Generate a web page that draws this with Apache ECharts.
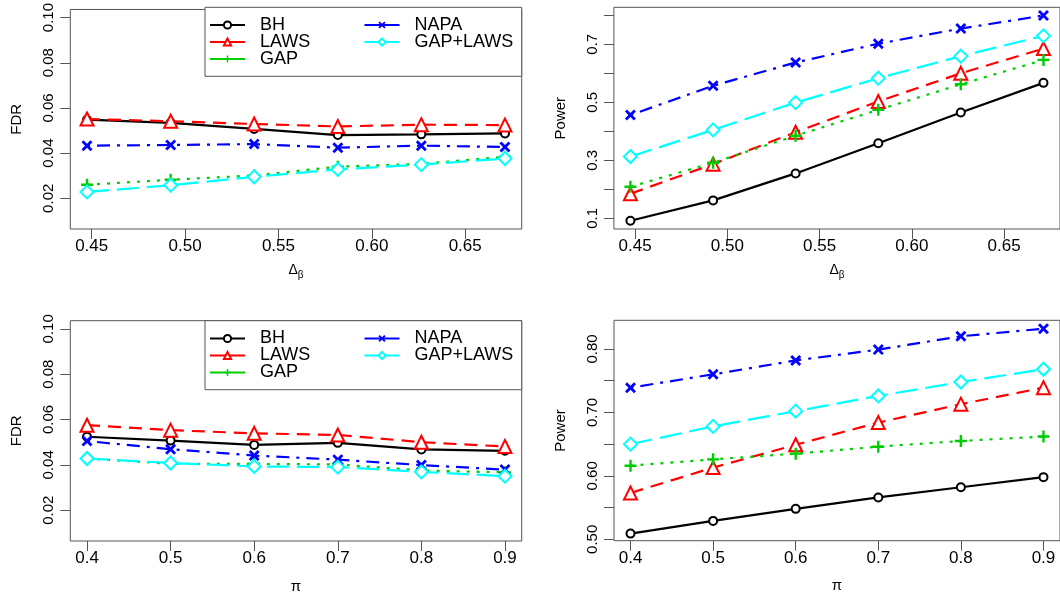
<!DOCTYPE html>
<html>
<head>
<meta charset="utf-8">
<script src="https://cdn.jsdelivr.net/npm/echarts@6/dist/echarts.min.js"></script>
<style>
html,body{margin:0;padding:0;background:#fff;}
#chart{width:1060px;height:597px;}
</style>
</head>
<body>
<div id="chart"></div>
<script>
// ---------------- data ----------------
const seriesNames = ['BH', 'LAWS', 'GAP', 'NAPA', 'GAP+LAWS'];
const deltaBeta = [0.4475, 0.4923, 0.5370, 0.5818, 0.6265, 0.6713];
const piVals = [0.4, 0.5, 0.6, 0.7, 0.8, 0.9];

// FDR vs delta_beta
const fdrDB_BH      = [0.0548, 0.0534, 0.0507, 0.0480, 0.0483, 0.0487];
const fdrDB_LAWS    = [0.0551, 0.0541, 0.0529, 0.0518, 0.0526, 0.0524];
const fdrDB_GAP     = [0.0260, 0.0282, 0.0301, 0.0340, 0.0352, 0.0384];
const fdrDB_NAPA    = [0.0433, 0.0436, 0.0440, 0.0424, 0.0433, 0.0427];
const fdrDB_GAPLAWS = [0.0228, 0.0258, 0.0295, 0.0328, 0.0349, 0.0376];

// Power vs delta_beta
const powDB_BH      = [0.092, 0.162, 0.255, 0.359, 0.465, 0.567];
const powDB_LAWS    = [0.185, 0.287, 0.397, 0.503, 0.600, 0.685];
const powDB_GAP     = [0.209, 0.292, 0.385, 0.474, 0.562, 0.646];
const powDB_NAPA    = [0.456, 0.557, 0.637, 0.702, 0.754, 0.799];
const powDB_GAPLAWS = [0.313, 0.405, 0.499, 0.583, 0.659, 0.729];

// FDR vs pi
const fdrPi_BH      = [0.0524, 0.0507, 0.0488, 0.0497, 0.0468, 0.0462];
const fdrPi_LAWS    = [0.0575, 0.0553, 0.0539, 0.0532, 0.0500, 0.0481];
const fdrPi_GAP     = [0.0428, 0.0405, 0.0404, 0.0402, 0.0375, 0.0367];
const fdrPi_NAPA    = [0.0505, 0.0469, 0.0441, 0.0423, 0.0399, 0.0379];
const fdrPi_GAPLAWS = [0.0428, 0.0408, 0.0393, 0.0390, 0.0369, 0.0350];

// Power vs pi
const powPi_BH      = [0.509, 0.529, 0.548, 0.566, 0.582, 0.598];
const powPi_LAWS    = [0.573, 0.613, 0.649, 0.684, 0.713, 0.739];
const powPi_GAP     = [0.616, 0.626, 0.635, 0.646, 0.655, 0.662];
const powPi_NAPA    = [0.739, 0.760, 0.782, 0.799, 0.820, 0.832];
const powPi_GAPLAWS = [0.650, 0.678, 0.702, 0.726, 0.748, 0.768];

// tick values
const xTicksDB = [0.45, 0.50, 0.55, 0.60, 0.65];
const xTicksPi = [0.4, 0.5, 0.6, 0.7, 0.8, 0.9];
const fdrTicks = [0.02, 0.04, 0.06, 0.08, 0.10];
const powTopTicks = [0.1, 0.2, 0.3, 0.4, 0.5, 0.6, 0.7, 0.8];
const powTopLabels = [0.1, 0.3, 0.5, 0.7];
const powBotTicks = [0.50, 0.55, 0.60, 0.65, 0.70, 0.75, 0.80];
const powBotLabels = [0.50, 0.60, 0.70, 0.80];

// axis limits (R style: range extended by 4%)
const fdrLim = [0.01, 0.10];
const powTopLim = [0.0635, 0.8273];
const powBotLim = [0.4978, 0.8452];

// ---------------- styling ----------------
const FONT = '"Liberation Sans", Arial, Helvetica, sans-serif';
const AX = '#555';
function ext(lo, hi) { const d = (hi - lo) * 0.04; return [lo - d, hi + d]; }
function rng(a) { return ext(Math.min.apply(null, a), Math.max.apply(null, a)); }

const plusPath = 'path://M4,0 H6 V4 H10 V6 H6 V10 H4 V6 H0 V4 H4 Z';
const xPath = 'path://M1.8,0 L5,3.2 L8.2,0 L10,1.8 L6.8,5 L10,8.2 L8.2,10 L5,6.8 L1.8,10 L0,8.2 L3.2,5 L0,1.8 Z';

const styles = {
  'BH':       { color: '#000000', dash: 'solid',        symbol: 'emptyCircle',   size: 8,  bw: 2 },
  'LAWS':     { color: '#FF0000', dash: [13, 8],        symbol: 'emptyTriangle', size: 13, bw: 2.2 },
  'GAP':      { color: '#00CD00', dash: [3, 7],         symbol: plusPath,        size: 12, bw: 0 },
  'NAPA':     { color: '#0000FF', dash: [3, 7, 13, 7],  symbol: xPath,           size: 11, bw: 0 },
  'GAP+LAWS': { color: '#00FFFF', dash: [22, 8],        symbol: 'emptyDiamond',  size: 13, bw: 2.2 }
};

const grids = [
  { left: 70.3,  top: 7.3,   width: 451.4, height: 221.7 },
  { left: 613.9, top: 7.3,   width: 451.4, height: 221.7 },
  { left: 70.3,  top: 320.7, width: 451.4, height: 220.3 },
  { left: 614,   top: 320.3, width: 451.4, height: 220.4 }
].map(g => Object.assign(g, { show: true, borderColor: AX, borderWidth: 1, backgroundColor: 'transparent', containLabel: false }));

function xAxis(gi, ticks, lim, dec, name, rich, gap) {
  return {
    type: 'value', gridIndex: gi, min: lim[0], max: lim[1],
    axisLine: { show: false },
    axisTick: { show: true, inside: false, length: 10, customValues: ticks, lineStyle: { color: AX, width: 1 } },
    axisLabel: { show: true, margin: 9, customValues: ticks, formatter: v => v.toFixed(dec),
      color: '#000', fontFamily: FONT, fontSize: 17 },
    splitLine: { show: false },
    name: name, nameLocation: 'middle', nameGap: gap,
    nameTextStyle: { color: '#000', fontFamily: FONT, fontSize: 15, rich: rich }
  };
}
function yAxis(gi, ticks, labels, lim, dec, name) {
  return {
    type: 'value', gridIndex: gi, min: lim[0], max: lim[1],
    axisLine: { show: false },
    axisTick: { show: true, inside: false, length: 10, customValues: ticks, lineStyle: { color: AX, width: 1 } },
    axisLabel: { show: true, margin: 14, rotate: 90, customValues: labels, formatter: v => v.toFixed(dec),
      color: '#000', fontFamily: FONT, fontSize: 15 },
    splitLine: { show: false },
    name: name, nameLocation: 'middle', nameGap: 46, nameRotate: 90,
    nameTextStyle: { color: '#000', fontFamily: FONT, fontSize: 15 }
  };
}

const dbRich = {
  d: { fontSize: 14, fontFamily: FONT, color: '#000', padding: [0, 0, 4, 0] },
  s: { fontSize: 10, fontFamily: FONT, color: '#000', padding: [7, 0, 0, 0] }
};
const piRich = { p: { fontSize: 15, fontFamily: FONT, color: '#000' } };

const xLimDB = rng(deltaBeta);
const xLimPi = rng(piVals);

const xAxes = [
  xAxis(0, xTicksDB, xLimDB, 2, '{d|Δ}{s|β}', dbRich, 34),
  xAxis(1, xTicksDB, xLimDB, 2, '{d|Δ}{s|β}', dbRich, 34),
  xAxis(2, xTicksPi, xLimPi, 1, '{p|π}', piRich, 38),
  xAxis(3, xTicksPi, xLimPi, 1, '{p|π}', piRich, 38)
];
const yAxes = [
  yAxis(0, fdrTicks, fdrTicks, ext(fdrLim[0], fdrLim[1]), 2, 'FDR'),
  yAxis(1, powTopTicks, powTopLabels, powTopLim, 1, 'Power'),
  yAxis(2, fdrTicks, fdrTicks, ext(fdrLim[0], fdrLim[1]), 2, 'FDR'),
  yAxis(3, powBotTicks, powBotLabels, powBotLim, 2, 'Power')
];

const panels = [
  { xs: deltaBeta, ys: [fdrDB_BH, fdrDB_LAWS, fdrDB_GAP, fdrDB_NAPA, fdrDB_GAPLAWS] },
  { xs: deltaBeta, ys: [powDB_BH, powDB_LAWS, powDB_GAP, powDB_NAPA, powDB_GAPLAWS] },
  { xs: piVals,    ys: [fdrPi_BH, fdrPi_LAWS, fdrPi_GAP, fdrPi_NAPA, fdrPi_GAPLAWS] },
  { xs: piVals,    ys: [powPi_BH, powPi_LAWS, powPi_GAP, powPi_NAPA, powPi_GAPLAWS] }
];

const series = [];
panels.forEach((p, gi) => {
  seriesNames.forEach((nm, si) => {
    const st = styles[nm];
    series.push({
      type: 'line', name: nm, xAxisIndex: gi, yAxisIndex: gi,
      data: p.xs.map((x, i) => [x, p.ys[si][i]]),
      symbol: st.symbol, symbolSize: st.size, showSymbol: true, showAllSymbol: true,
      lineStyle: { color: st.color, width: 2.2, type: st.dash },
      itemStyle: { color: st.color, borderColor: st.color, borderWidth: st.bw },
      clip: false, animation: false, silent: true, z: 2 + si
    });
  });
});

function legends(top) {
  const common = {
    orient: 'vertical', top: top, padding: 0, itemWidth: 35, itemHeight: 9, itemGap: -1,
    selectedMode: false, z: 10,
    lineStyle: { type: 'solid', width: 2 },
    textStyle: { color: '#000', fontFamily: FONT, fontSize: 18, padding: [0, 0, 0, 10] }
  };
  return [
    Object.assign({ left: 209, data: ['BH', 'LAWS', 'GAP'] }, common),
    Object.assign({ left: 363.5, data: ['NAPA', 'GAP+LAWS'] }, common)
  ];
}

const option = {
  backgroundColor: '#fff',
  animation: false,
  grid: grids,
  xAxis: xAxes,
  yAxis: yAxes,
  legend: legends(16).concat(legends(329.5)),
  graphic: [
    { type: 'rect', z: 5, shape: { x: 205, y: 7.3, width: 316.7, height: 69 }, style: { fill: '#fff', stroke: AX, lineWidth: 1 } },
    { type: 'rect', z: 5, shape: { x: 205, y: 320.7, width: 316.7, height: 69 }, style: { fill: '#fff', stroke: AX, lineWidth: 1 } }
  ],
  series: series
};

const chart = echarts.init(document.getElementById('chart'), null, { renderer: 'canvas' });
chart.setOption(option);
</script>
</body>
</html>
